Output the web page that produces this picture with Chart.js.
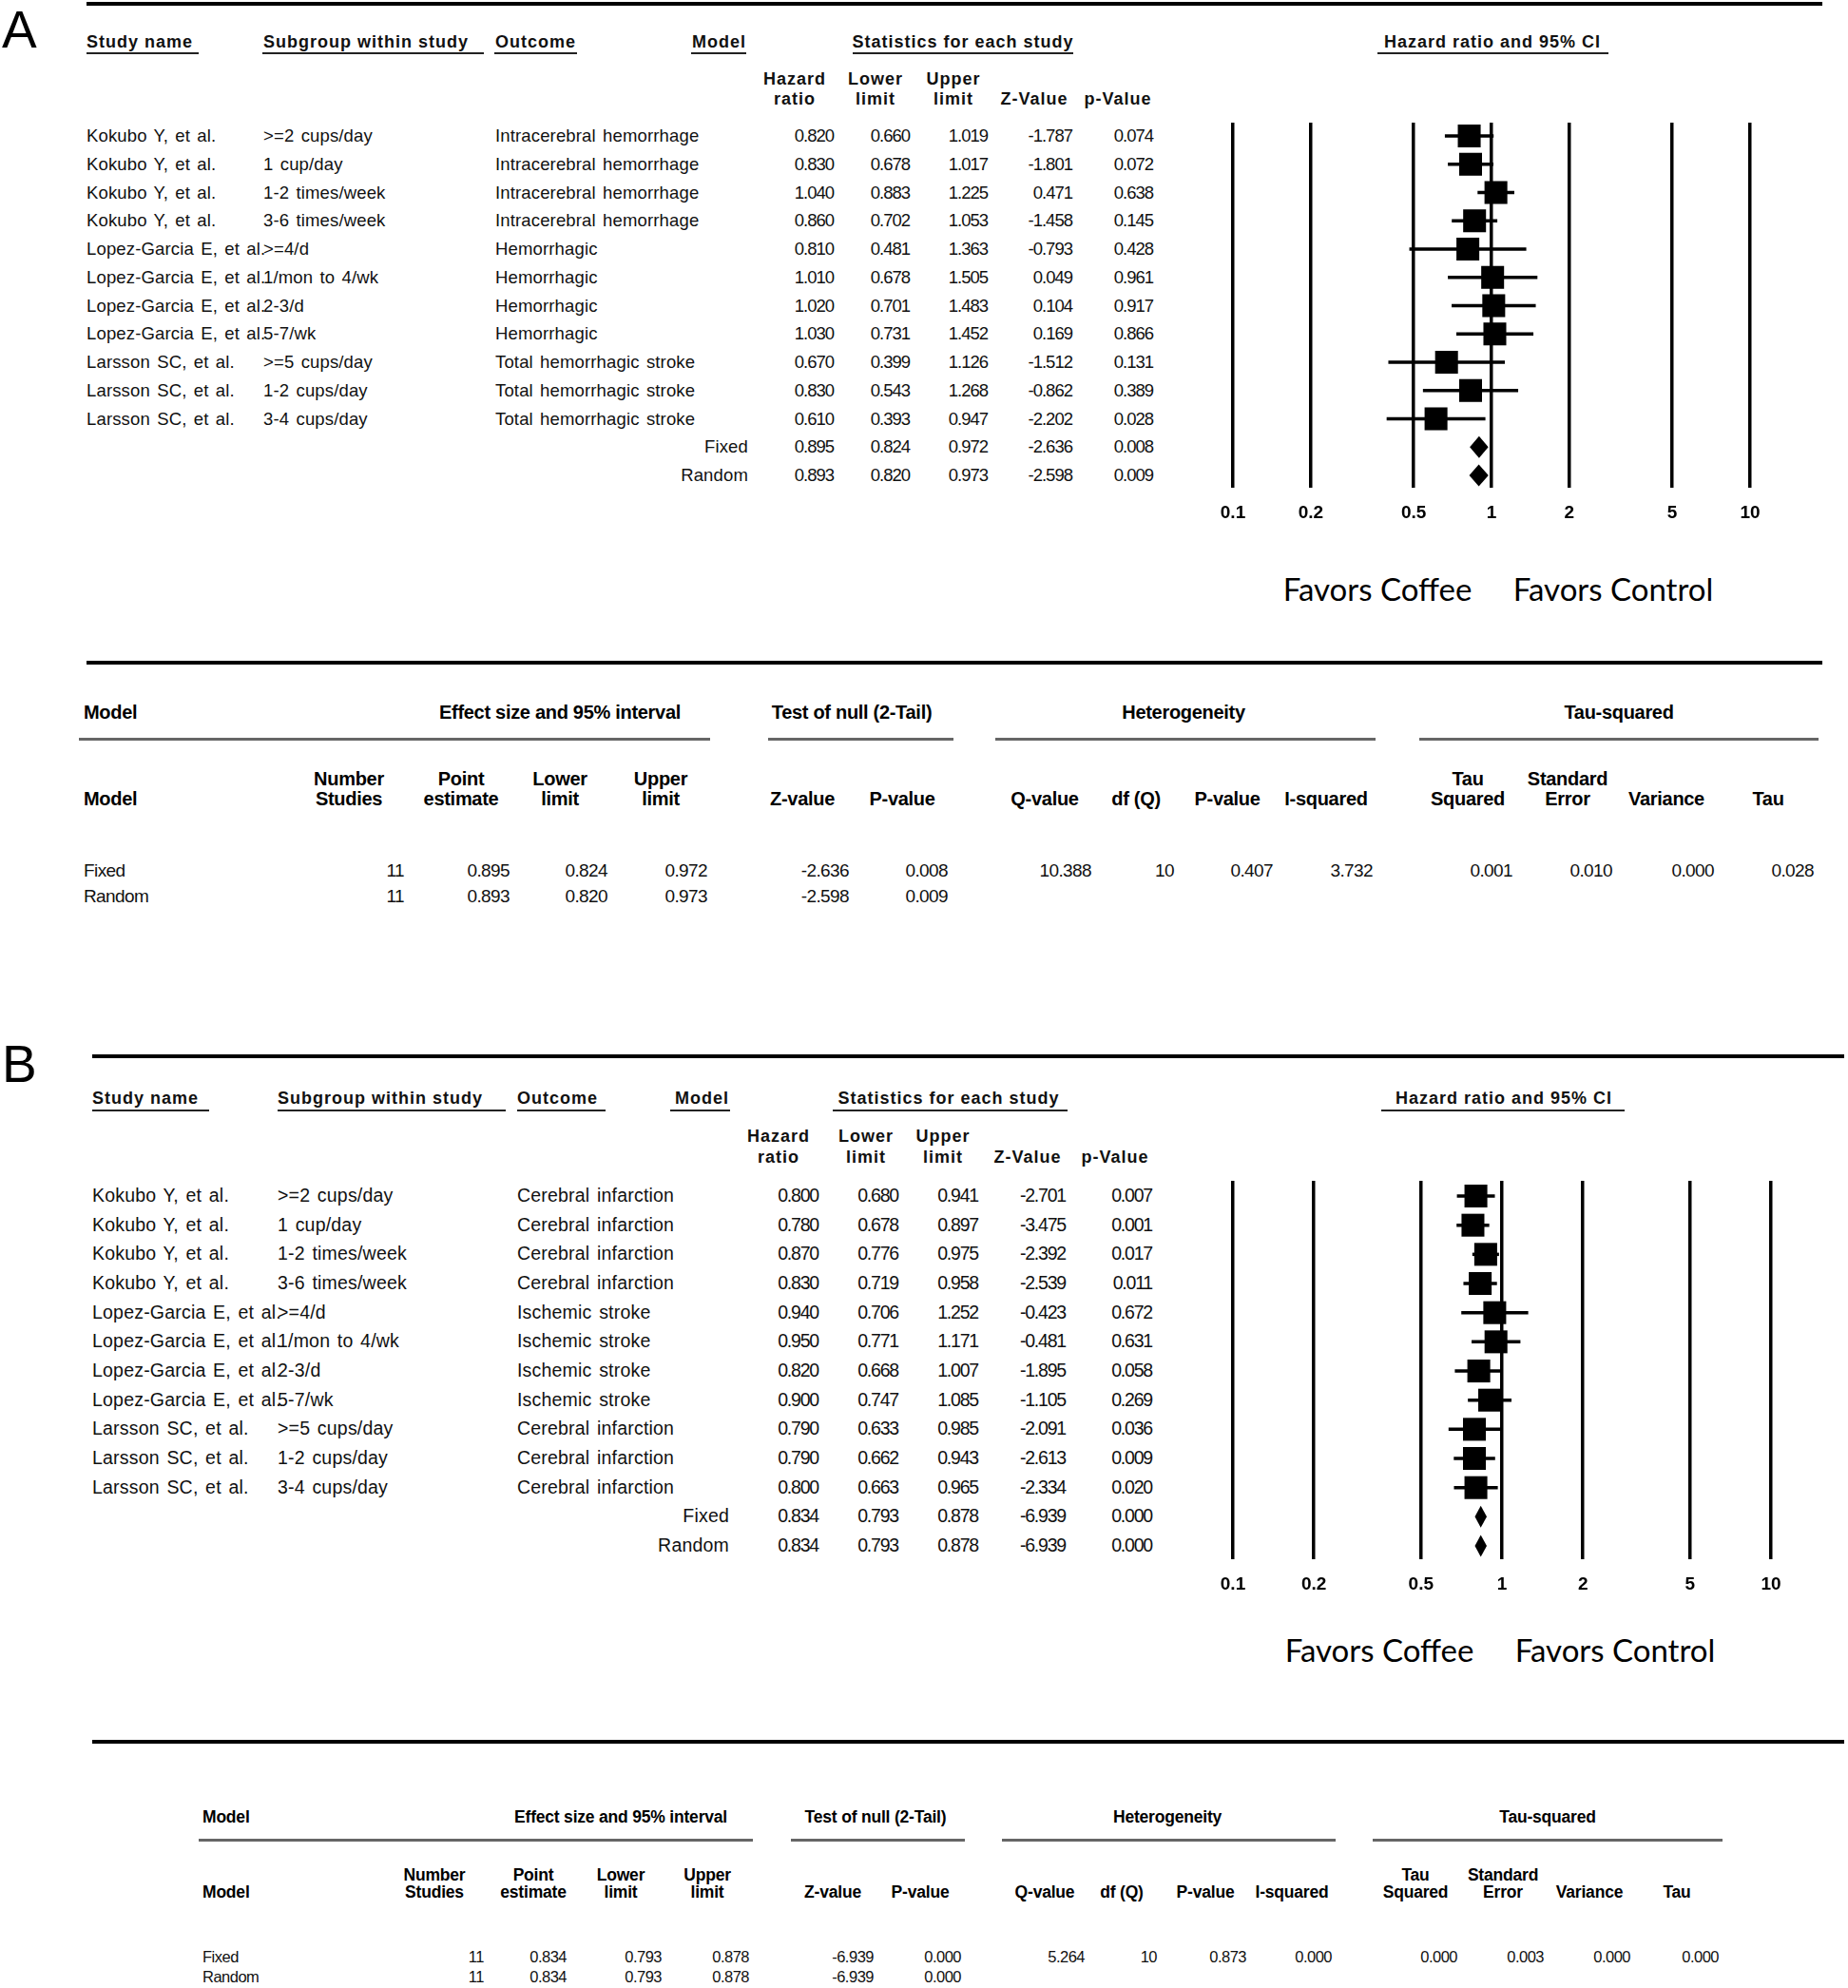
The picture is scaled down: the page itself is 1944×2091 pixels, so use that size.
<!DOCTYPE html>
<html>
<head>
<meta charset="utf-8">
<title>Coffee and stroke forest plots</title>
<script src="https://cdn.jsdelivr.net/npm/chart.js@4.4.1/dist/chart.umd.min.js"></script>
<style>
    body { margin: 0; background: #fff; }
    #page { position: relative; width: 1944px; height: 2091px; overflow: hidden; background: #fff; }
    .t { position: absolute; white-space: nowrap; line-height: 1.15; color: #111; }
    .rule { position: absolute; }
    canvas { position: absolute; }
    .lab { font-family: 'Liberation Sans', Arial, sans-serif; font-size: 55px; color: #000; }
    .hd { font: bold 18px 'Liberation Sans', Arial, sans-serif; letter-spacing: 1px; }
    .cellA { font: 18.5px 'Liberation Sans', Arial, sans-serif; word-spacing: 2px; letter-spacing: 0.15px; }
    .numA { font: 18.5px 'Liberation Sans', Arial, sans-serif; letter-spacing: -1px; }
    .cellB { font: 19.5px 'Liberation Sans', Arial, sans-serif; word-spacing: 2px; letter-spacing: 0.2px; }
    .numB { font: 19.5px 'Liberation Sans', Arial, sans-serif; letter-spacing: -1.2px; }
    .fav { font: 33px Lato, 'Open Sans', sans-serif; color: #000; }
    .shA { font: bold 20px 'Liberation Sans', Arial, sans-serif; letter-spacing: -0.3px; color: #000; }
    .svA { font: 19px 'Liberation Sans', Arial, sans-serif; letter-spacing: -0.6px; }
    .shB { font: bold 17.5px 'Liberation Sans', Arial, sans-serif; letter-spacing: -0.2px; color: #000; }
    .svB { font: 16.5px 'Liberation Sans', Arial, sans-serif; letter-spacing: -0.5px; }
</style>
</head>
<body>
<div id="page"></div>
<script>
// ---- data: panel A (hemorrhagic stroke) ----
const studies = ['Kokubo Y, et al.', 'Kokubo Y, et al.', 'Kokubo Y, et al.', 'Kokubo Y, et al.',
    'Lopez-Garcia E, et al.', 'Lopez-Garcia E, et al.', 'Lopez-Garcia E, et al.', 'Lopez-Garcia E, et al.',
    'Larsson SC, et al.', 'Larsson SC, et al.', 'Larsson SC, et al.']
const subgroups = ['>=2 cups/day', '1 cup/day', '1-2 times/week', '3-6 times/week',
    '>=4/d', '1/mon to 4/wk', '2-3/d', '5-7/wk',
    '>=5 cups/day', '1-2 cups/day', '3-4 cups/day']
const models = ['Fixed', 'Random']

const outcomeA = ['Intracerebral hemorrhage', 'Intracerebral hemorrhage', 'Intracerebral hemorrhage', 'Intracerebral hemorrhage',
    'Hemorrhagic', 'Hemorrhagic', 'Hemorrhagic', 'Hemorrhagic',
    'Total hemorrhagic stroke', 'Total hemorrhagic stroke', 'Total hemorrhagic stroke']
// last two entries are the Fixed and Random pooled rows
const hrA = [0.820, 0.830, 1.040, 0.860, 0.810, 1.010, 1.020, 1.030, 0.670, 0.830, 0.610, 0.895, 0.893]
const lowA = [0.660, 0.678, 0.883, 0.702, 0.481, 0.678, 0.701, 0.731, 0.399, 0.543, 0.393, 0.824, 0.820]
const upA = [1.019, 1.017, 1.225, 1.053, 1.363, 1.505, 1.483, 1.452, 1.126, 1.268, 0.947, 0.972, 0.973]
const zA = [-1.787, -1.801, 0.471, -1.458, -0.793, 0.049, 0.104, 0.169, -1.512, -0.862, -2.202, -2.636, -2.598]
const pA = [0.074, 0.072, 0.638, 0.145, 0.428, 0.961, 0.917, 0.866, 0.131, 0.389, 0.028, 0.008, 0.009]
const nStudiesA = [11, 11]
const hetA = ['10.388', '10', '0.407', '3.732']
const tauA = ['0.001', '0.010', '0.000', '0.028']

// ---- data: panel B (ischemic stroke) ----
const outcomeB = ['Cerebral infarction', 'Cerebral infarction', 'Cerebral infarction', 'Cerebral infarction',
    'Ischemic stroke', 'Ischemic stroke', 'Ischemic stroke', 'Ischemic stroke',
    'Cerebral infarction', 'Cerebral infarction', 'Cerebral infarction']
const hrB = [0.800, 0.780, 0.870, 0.830, 0.940, 0.950, 0.820, 0.900, 0.790, 0.790, 0.800, 0.834, 0.834]
const lowB = [0.680, 0.678, 0.776, 0.719, 0.706, 0.771, 0.668, 0.747, 0.633, 0.662, 0.663, 0.793, 0.793]
const upB = [0.941, 0.897, 0.975, 0.958, 1.252, 1.171, 1.007, 1.085, 0.985, 0.943, 0.965, 0.878, 0.878]
const zB = [-2.701, -3.475, -2.392, -2.539, -0.423, -0.481, -1.895, -1.105, -2.091, -2.613, -2.334, -6.939, -6.939]
const pB = [0.007, 0.001, 0.017, 0.011, 0.672, 0.631, 0.058, 0.269, 0.036, 0.009, 0.020, 0.000, 0.000]
const nStudiesB = [11, 11]
const hetB = ['5.264', '10', '0.873', '0.000']
const tauB = ['0.000', '0.003', '0.000', '0.000']

const tickVals = [0.1, 0.2, 0.5, 1, 2, 5, 10]
const tickLabels = ['0.1', '0.2', '0.5', '1', '2', '5', '10']

const page = document.querySelector('#page')

const put = (x, y, str, cls, align = 'l') => {
    const el = document.createElement('div')
    el.className = 't ' + cls
    el.textContent = str
    el.style.left = x + 'px'
    el.style.top = y + 'px'
    const dx = align === 'r' ? '-100%' : align === 'c' ? '-50%' : '0'
    el.style.transform = `translate(${dx}, -50%)`
    page.appendChild(el)
}

const rule = (x1, x2, y, h, color) => {
    const el = document.createElement('div')
    el.className = 'rule'
    el.style.left = x1 + 'px'
    el.style.top = (y - h / 2) + 'px'
    el.style.width = (x2 - x1) + 'px'
    el.style.height = h + 'px'
    el.style.background = color
    page.appendChild(el)
}

const f3 = (v) => v.toFixed(3)

// study table on the left of each forest plot
const drawStudyTable = (L, outcome, hr, low, up, z, p) => {
    put(2, L.labelY, L.label, 'lab')
    rule(L.lineX[0], L.lineX[1], L.lineY, 4, '#000')

    L.heads.forEach(([txt, x, align], i) => {
        put(x, L.headY, txt, 'hd', align)
        rule(L.underlines[i][0], L.underlines[i][1], L.ulY, 2, '#222')
    })

    const sub = [['Hazard', 'ratio'], ['Lower', 'limit'], ['Upper', 'limit'], ['', 'Z-Value'], ['', 'p-Value']]
    sub.forEach(([a, b], i) => {
        if (a) put(L.subX[i], L.subY[0], a, 'hd', 'c')
        put(L.subX[i], L.subY[1], b, 'hd', 'c')
    })

    const cols = [hr, low, up, z, p]
    hr.forEach((v, i) => {
        const y = L.row0 + i * L.pitch
        if (i < studies.length) {
            put(L.colX.study, y, studies[i], L.cellCls)
            put(L.colX.sub, y, subgroups[i], L.cellCls)
            put(L.colX.outcome, y, outcome[i], L.cellCls)
        } else {
            put(L.colX.model, y, models[i - studies.length], L.cellCls, 'r')
        }
        cols.forEach((c, k) => put(L.numX[k], y, f3(c[i]), L.numCls, 'r'))
    })

    put(L.favX[0], L.favY, 'Favors Coffee', 'fav', 'c')
    put(L.favX[1], L.favY, 'Favors Control', 'fav', 'c')
}

// summary table below each forest plot
const drawSummary = (S, nStudies, hr, low, up, z, p, het, tau) => {
    rule(S.lineX[0], S.lineX[1], S.lineY, 4, '#000')
    put(S.modelX, S.headY, 'Model', S.hCls)
    const groups = ['Effect size and 95% interval', 'Test of null (2-Tail)', 'Heterogeneity', 'Tau-squared']
    groups.forEach((g, i) => {
        put(S.groupX[i], S.headY, g, S.hCls, 'c')
        rule(S.grayX[i][0], S.grayX[i][1], S.grayY, 3, '#666')
    })

    put(S.modelX, S.subY[1], 'Model', S.hCls)
    const sub = [['Number', 'Studies'], ['Point', 'estimate'], ['Lower', 'limit'], ['Upper', 'limit'],
        ['', 'Z-value'], ['', 'P-value'], ['', 'Q-value'], ['', 'df (Q)'], ['', 'P-value'], ['', 'I-squared'],
        ['Tau', 'Squared'], ['Standard', 'Error'], ['', 'Variance'], ['', 'Tau']]
    sub.forEach(([a, b], i) => {
        if (a) put(S.subX[i], S.subY[0], a, S.hCls, 'c')
        put(S.subX[i], S.subY[1], b, S.hCls, 'c')
    })

    const k = hr.length - 2
    models.forEach((m, r) => {
        const y = S.dataY[r]
        put(S.modelX, y, m, S.vCls)
        let vals = [String(nStudies[r]), f3(hr[k + r]), f3(low[k + r]), f3(up[k + r]), f3(z[k + r]), f3(p[k + r])]
        if (r === 0) vals = vals.concat(het, tau)
        vals.forEach((v, i) => put(S.valX[i], y, v, S.vCls, 'r'))
    })
}

// forest plot drawn with Chart.js on a log axis
const drawForest = (F, hr, low, up) => {
    const canvas = document.createElement('canvas')
    canvas.width = F.w
    canvas.height = F.h
    canvas.style.left = F.left + 'px'
    canvas.style.top = F.top + 'px'
    page.appendChild(canvas)

    const nStudy = hr.length - 2
    const points = hr.slice(0, nStudy).map((v, i) => ({ x: v, y: i }))

    const ciPlugin = {
        id: 'ciLines',
        beforeDatasetsDraw(chart) {
            const { ctx, scales: { x, y } } = chart
            ctx.save()
            ctx.strokeStyle = '#000'
            ctx.lineWidth = 3.5
            for (let i = 0; i < nStudy; i++) {
                const py = y.getPixelForValue(i)
                ctx.beginPath()
                ctx.moveTo(x.getPixelForValue(low[i]), py)
                ctx.lineTo(x.getPixelForValue(up[i]), py)
                ctx.stroke()
            }
            ctx.restore()
        },
        afterDatasetsDraw(chart) {
            const { ctx, scales: { x, y } } = chart
            ctx.save()
            ctx.fillStyle = '#000'
            for (let i = nStudy; i < hr.length; i++) {
                const py = y.getPixelForValue(i)
                ctx.beginPath()
                ctx.moveTo(x.getPixelForValue(low[i]), py)
                ctx.lineTo(x.getPixelForValue(hr[i]), py - F.diamondH / 2)
                ctx.lineTo(x.getPixelForValue(up[i]), py)
                ctx.lineTo(x.getPixelForValue(hr[i]), py + F.diamondH / 2)
                ctx.closePath()
                ctx.fill()
            }
            ctx.restore()
        }
    }

    return new Chart(canvas, {
        type: 'scatter',
        data: {
            datasets: [{
                data: points,
                pointStyle: 'rect',
                pointRadius: F.boxR,
                pointHoverRadius: F.boxR,
                backgroundColor: '#000',
                borderColor: '#000',
                borderWidth: 0,
            }],
        },
        options: {
            responsive: false,
            animation: false,
            devicePixelRatio: 1,
            layout: { autoPadding: false, padding: { left: 30, right: 30, top: 10, bottom: 0 } },
            plugins: { legend: { display: false }, tooltip: { enabled: false } },
            scales: {
                x: {
                    type: 'logarithmic',
                    min: 0.1,
                    max: 10,
                    afterBuildTicks: (s) => { s.ticks = tickVals.map((v) => ({ value: v })) },
                    afterFit: (s) => { s.height = 60 },
                    ticks: {
                        autoSkip: false,
                        maxRotation: 0,
                        padding: 15,
                        color: '#000',
                        font: { family: 'Liberation Sans, Arial, sans-serif', size: 19, weight: 'bold' },
                        callback: (v, i) => tickLabels[i],
                    },
                    grid: { color: '#000', lineWidth: 3.5, drawTicks: false },
                    border: { display: false },
                },
                y: {
                    type: 'linear',
                    display: false,
                    reverse: true,
                    min: F.yMin,
                    max: F.yMax,
                },
            },
        },
        plugins: [ciPlugin],
    })
}

// ---- panel A ----
drawStudyTable({
    label: 'A', labelY: 32, lineX: [91, 1917], lineY: 4,
    headY: 44, ulY: 56,
    heads: [['Study name', 91, 'l'], ['Subgroup within study', 277, 'l'], ['Outcome', 521, 'l'],
        ['Model', 785, 'r'], ['Statistics for each study', 1013, 'c'], ['Hazard ratio and 95% CI', 1570, 'c']],
    underlines: [[91, 209], [276, 509], [520, 607], [727, 785], [897, 1129], [1449, 1692]],
    subY: [83, 104], subX: [836, 921, 1003, 1088, 1176],
    row0: 143, pitch: 29.75, cellCls: 'cellA', numCls: 'numA',
    colX: { study: 91, sub: 277, outcome: 521, model: 787 },
    numX: [877, 957, 1039, 1128, 1213],
    favX: [1449, 1697], favY: 619,
}, outcomeA, hrA, lowA, upA, zA, pA)

drawForest({
    left: 1267, top: 119, w: 604, h: 454,
    yMin: -14 / 29.75, yMax: -14 / 29.75 + 384 / 29.75,
    boxR: 17, diamondH: 23,
}, hrA, lowA, upA)

drawSummary({
    lineX: [91, 1917], lineY: 697,
    modelX: 88, headY: 749, hCls: 'shA', vCls: 'svA',
    groupX: [589, 896, 1245, 1703],
    grayX: [[83, 747], [808, 1003], [1047, 1447], [1493, 1913]], grayY: 777,
    subY: [819, 840],
    subX: [367, 485, 589, 695, 844, 949, 1099, 1195, 1291, 1395, 1544, 1649, 1753, 1860],
    dataY: [916, 943],
    valX: [425, 536, 639, 744, 893, 997, 1148, 1235, 1339, 1444, 1591, 1696, 1803, 1908],
}, nStudiesA, hrA, lowA, upA, zA, pA, hetA, tauA)

// ---- panel B ----
drawStudyTable({
    label: 'B', labelY: 1120, lineX: [97, 1940], lineY: 1111,
    headY: 1155, ulY: 1168,
    heads: [['Study name', 97, 'l'], ['Subgroup within study', 292, 'l'], ['Outcome', 544, 'l'],
        ['Model', 767, 'r'], ['Statistics for each study', 998, 'c'], ['Hazard ratio and 95% CI', 1582, 'c']],
    underlines: [[97, 220], [292, 532], [544, 637], [705, 768], [876, 1123], [1453, 1709]],
    subY: [1195, 1217], subX: [819, 911, 992, 1081, 1173],
    row0: 1257, pitch: 30.67, cellCls: 'cellB', numCls: 'numB',
    colX: { study: 97, sub: 292, outcome: 544, model: 767 },
    numX: [861, 945, 1029, 1121, 1212],
    favX: [1451, 1699], favY: 1735,
}, outcomeB, hrB, lowB, upB, zB, pB)

drawForest({
    left: 1267, top: 1232, w: 626, h: 468,
    yMin: -16 / 30.67, yMax: -16 / 30.67 + 398 / 30.67,
    boxR: 17, diamondH: 23,
}, hrB, lowB, upB)

drawSummary({
    lineX: [97, 1940], lineY: 1832,
    modelX: 213, headY: 1911, hCls: 'shB', vCls: 'svB',
    groupX: [653, 921, 1228, 1628],
    grayX: [[209, 792], [832, 1015], [1054, 1405], [1444, 1812]], grayY: 1935,
    subY: [1972, 1990],
    subX: [457, 561, 653, 744, 876, 968, 1099, 1180, 1268, 1359, 1489, 1581, 1672, 1764],
    dataY: [2058, 2079],
    valX: [509, 596, 696, 788, 919, 1011, 1141, 1217, 1311, 1401, 1533, 1624, 1715, 1808],
}, nStudiesB, hrB, lowB, upB, zB, pB, hetB, tauB)
</script>
</body>
</html>
